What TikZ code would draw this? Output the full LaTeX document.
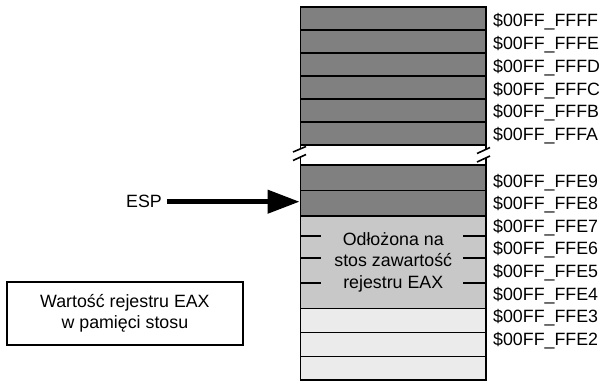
\documentclass[tikz,border=0pt]{standalone}
\usepackage{fontspec}
\setmainfont{Liberation Sans}
\usetikzlibrary{arrows.meta}
\definecolor{celldark}{HTML}{808080}
\definecolor{cellmid}{HTML}{C8C8C8}
\definecolor{celllight}{HTML}{EBEBEB}
\newcommand{\labelfont}{\fontsize{17.8}{21.7}\selectfont}
\tikzset{
  cell/.style={draw=black, line width=1.8pt, inner sep=0pt, outer sep=0pt,
    minimum width=185.5pt, anchor=north west},
  addr/.style={anchor=base west, inner sep=0pt, font=\labelfont},
  edge/.style={line width=1.8pt},
  breakmark/.style={line width=1.6pt},
  tickmark/.style={line width=1.8pt},
  pointer/.style={line width=4.5pt, -{Triangle[length=32pt, width=23pt]}},
  notebox/.style={draw=black, line width=1.8pt, inner sep=0pt, align=center,
    minimum width=236.3pt, minimum height=63.3pt, font=\labelfont},
}
\begin{document}
\begin{tikzpicture}[x=1pt,y=-1pt]
\useasboundingbox (0,0) rectangle (603,381);

% upper part of the stack
\foreach \i/\t in {1/7,2/30,3/53,4/76,5/99,6/122}
  \node[cell, fill=celldark, minimum height=23pt] (t\i) at (300.5,\t) {};

% break in the stack: side edges with slash marks
\draw[edge] (300.5,145) -- (300.5,148);
\draw[edge] (300.5,156) -- (300.5,165);
\draw[edge] (486,145) -- (486,149);
\draw[edge] (486,157.5) -- (486,165);
\draw[breakmark] (293,152) -- (306,146.5);
\draw[breakmark] (293,160.5) -- (306,154.5);
\draw[breakmark] (477,153.5) -- (490,147.5);
\draw[breakmark] (477,162) -- (490,156);

% lower part of the stack
\node[cell, fill=celldark, minimum height=25.5pt] (b1) at (300.5,165) {};
\node[cell, fill=celldark, minimum height=25.5pt] (b2) at (300.5,190.5) {};
\node[cell, fill=cellmid, minimum height=92.5pt, align=center, font=\labelfont]
  (eax) at (300.5,216) {Odłożona na\\stos zawartość\\rejestru EAX};
\node[cell, fill=celllight, minimum height=24pt] (b3) at (300.5,308.5) {};
\node[cell, fill=celllight, minimum height=24pt] (b4) at (300.5,332.5) {};
\node[cell, fill=celllight, minimum height=23.5pt] (b5) at (300.5,356.5) {};

% byte dividers inside the pushed value
\foreach \y in {236,258,283} {
  \draw[tickmark] (300.5,\y) -- (321,\y);
  \draw[tickmark] (463,\y) -- (486,\y);
}

% addresses
\foreach \i/\y/\a in {1/26.9/FFFF,2/49.6/FFFE,3/72.3/FFFD,4/95.0/FFFC,5/117.7/FFFB,6/140.4/FFFA}
  \node[addr] (at\i) at (493,\y) {\$00FF\_\a};
\foreach \i/\y/\a in {1/187/FFE9,2/209.6/FFE8,3/232.2/FFE7,4/254.8/FFE6,5/277.4/FFE5,6/300/FFE4,7/322.6/FFE3,8/345.2/FFE2}
  \node[addr] (ab\i) at (493,\y) {\$00FF\_\a};

% stack pointer
\node[inner sep=0pt, text height=12.5pt, text depth=0pt, font=\labelfont] (esp) at (144,201.7) {ESP};
\draw[pointer, shorten <=5pt, shorten >=1pt] (esp.east) -- (esp.east -| b2.west);

% caption box
\node[notebox] (note) at (124.9,313.3) {Wartość rejestru EAX\\w pamięci stosu};
\end{tikzpicture}
\end{document}
